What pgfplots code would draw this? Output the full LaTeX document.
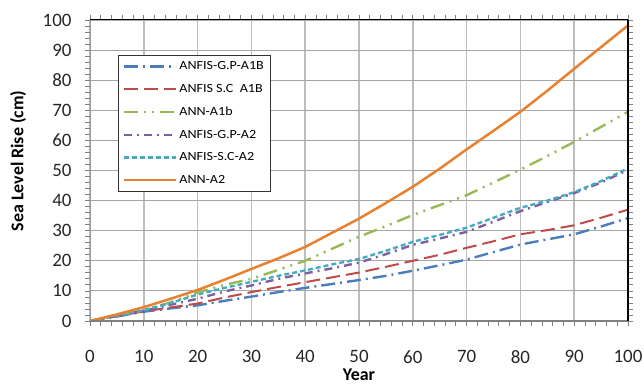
\documentclass[border=0pt]{standalone}
\usepackage{fontspec}
\setmainfont{Carlito}
\newfontfamily\legfont[FakeStretch=1.13]{Carlito}
\usepackage{pgfplots}
\pgfplotsset{compat=1.18}
\definecolor{cblue}{HTML}{4A7EBB}
\definecolor{cred}{HTML}{BE4B48}
\definecolor{cgreen}{HTML}{98B954}
\definecolor{cpurple}{HTML}{7D60A0}
\definecolor{cteal}{HTML}{46AAC5}
\definecolor{corange}{HTML}{E8802F}
\definecolor{gridg}{HTML}{A6A6A6}
\definecolor{gridv}{HTML}{BDBDBD}
\begin{document}
\begin{tikzpicture}
\begin{axis}[
  name=ax,
  scale only axis,
  width=538bp, height=301bp,
  xmin=0, xmax=100, ymin=0, ymax=100,
  xtick={0,10,...,100}, ytick={0,10,...,100},
  minor x tick num=4, minor y tick num=4,
  tick align=outside,
  major tick length=5bp, minor tick length=5bp,
  tick style={color=gray, line width=0.8pt},
  axis line style={draw=none},
  /pgf/number format/assume math mode=true,
  ticklabel style={font=\fontsize{19}{22}\selectfont, text=black!85},
  xticklabel style={yshift=-21bp},
  yticklabel style={xshift=-10bp},
  xmajorgrids, ymajorgrids,
  x grid style={gridv, line width=1.6pt},
  y grid style={gridg, line width=1.1pt},
  extra y ticks={10,40},
  extra y tick labels={},
  extra y tick style={grid style={color=gray!90, line width=2.2pt}, major tick length=7bp, tick style={draw=none}},
  xlabel={\bfseries Year},
  ylabel={\bfseries Sea Level Rise (cm)},
  xlabel style={font=\fontsize{18}{20}\selectfont, at={(axis description cs:0.5,-0.178)}, anchor=center},
  ylabel style={font=\fontsize{18}{20}\selectfont, at={(axis description cs:-0.1338,0.532)}, anchor=center},
  legend style={at={(axis description cs:0.052,0.884)}, anchor=north west,
    draw=black!80, line width=0.8pt, fill=white,
    font=\legfont\fontsize{12.5}{14}\selectfont, row sep=9bp, inner xsep=4.5bp, inner ysep=4.5bp},
  legend cell align=left,
  legend image code/.code={\draw[#1] (0bp,0bp) -- (52bp,0bp);},
  clip=false,
]
\addplot[cblue, line width=2.4pt, dash pattern=on 14bp off 5bp on 2bp off 5bp] coordinates {
(0,0) (5,1.5) (10,3.1) (15,4.2) (20,5.2) (25,6.7) (30,8.1) (35,9.6) (40,11) (45,12.3) (50,13.6) (55,15) (60,16.7) (65,18.5) (70,20.4) (75,22.9) (80,25.4) (85,27.1) (90,28.8) (95,31.4) (100,34.2)};
\addlegendentry{ANFIS-G.P-A1B}
\addplot[cred, line width=2pt, dash pattern=on 14bp off 6bp] coordinates {
(0,0) (5,1.6) (10,3.2) (15,4.5) (20,5.8) (25,7.8) (30,9.6) (35,11.3) (40,12.9) (45,14.5) (50,16.1) (55,18) (60,20) (65,22) (70,24.3) (75,26.5) (80,28.8) (85,30.2) (90,31.8) (95,34.3) (100,37)};
\addlegendentry{ANFIS S.C\ \ A1B}
\addplot[cgreen, line width=2.4pt, dash pattern=on 14bp off 6bp on 2bp off 6bp on 2bp off 6bp] coordinates {
(0,0) (5,1.8) (10,3.6) (15,6.2) (20,9.5) (25,12) (30,14) (35,17) (40,20) (45,24) (50,28) (55,31.5) (60,35.2) (65,38.5) (70,41.8) (75,46) (80,50.3) (85,54.8) (90,59.5) (95,64.5) (100,69.5)};
\addlegendentry{ANN-A1b}
\addplot[cpurple, line width=2.4pt, dash pattern=on 8bp off 5bp on 2bp off 5bp] coordinates {
(0,0) (5,1.7) (10,3.4) (15,5.4) (20,7.4) (25,9.8) (30,11.8) (35,14) (40,15.8) (45,17.5) (50,19.4) (55,22.2) (60,25.3) (65,27.4) (70,29.6) (75,33) (80,36.5) (85,39.5) (90,42.5) (95,46) (100,50.2)};
\addlegendentry{ANFIS-G.P-A2}
\addplot[cteal, line width=2.4pt, dash pattern=on 5bp off 3bp] coordinates {
(0,0) (5,1.8) (10,3.6) (15,6) (20,8.8) (25,11) (30,13) (35,15) (40,16.8) (45,18.8) (50,20.6) (55,23.3) (60,26.3) (65,28.6) (70,31) (75,34.3) (80,37.6) (85,40) (90,42.8) (95,46.5) (100,50.7)};
\addlegendentry{ANFIS-S.C-A2}
\addplot[corange, line width=2.5pt] coordinates {
(0,0) (5,2.2) (10,4.6) (15,7.4) (20,10.3) (25,13.7) (30,17.3) (35,20.8) (40,24.6) (45,29.3) (50,34) (55,39.2) (60,44.6) (65,50.6) (70,57) (75,63.2) (80,69.5) (85,76.5) (90,83.8) (95,91) (100,98.2)};
\addlegendentry{ANN-A2}
\draw[gray, line width=1.6pt] (rel axis cs:0,0) -- (rel axis cs:1,0);
\draw[gray!80, line width=0.8pt] (rel axis cs:0,0) -- (rel axis cs:0,1);
\draw[black, line width=1pt] (rel axis cs:0,1) -- (rel axis cs:1,1);
\draw[black, line width=1.3pt] (rel axis cs:1,0) -- (rel axis cs:1,1);
\end{axis}
\pgfresetboundingbox
\path[use as bounding box] ([xshift=-90bp,yshift=-64bp]ax.south west) rectangle ([xshift=16bp,yshift=20bp]ax.north east);
\end{tikzpicture}
\end{document}
